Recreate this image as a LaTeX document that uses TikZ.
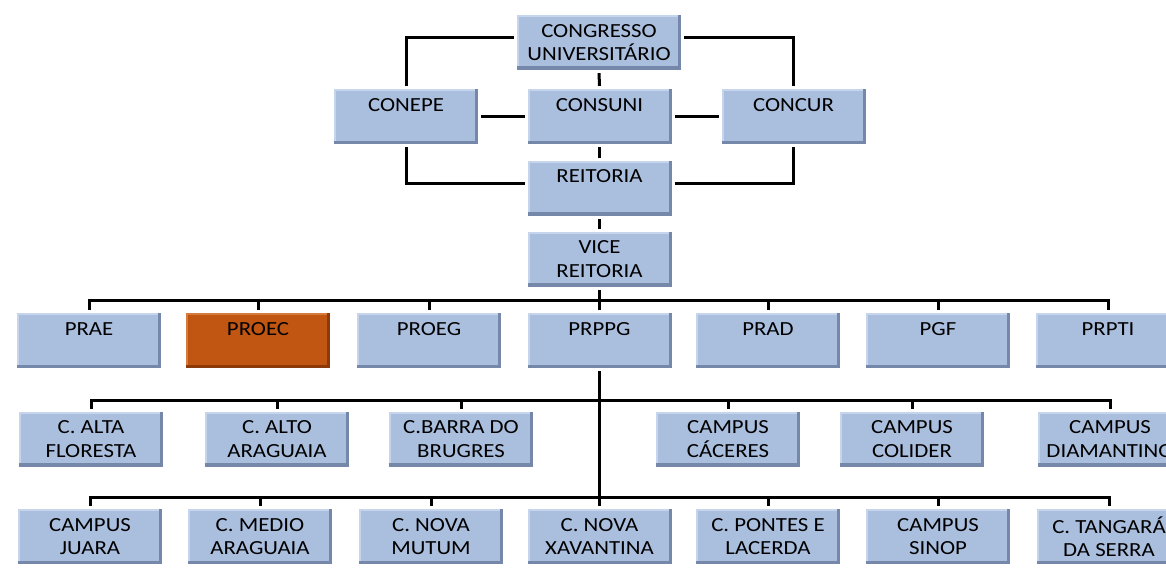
\documentclass[tikz,border=0pt]{standalone}
\usepackage{fontspec}
\newfontfamily\boxfont{Carlito}[FakeStretch=1.14]
\usetikzlibrary{shadows,backgrounds,calc}
\definecolor{boxblue}{RGB}{170,190,222}
\definecolor{bluedark}{RGB}{118,136,170}
\definecolor{bluelight}{RGB}{198,212,236}
\definecolor{proecfill}{RGB}{193,85,18}
\definecolor{proecdark}{RGB}{140,58,10}
\definecolor{proeclight}{RGB}{214,122,62}
\tikzset{
  orgbox/.style n args={3}{rectangle, fill=#1, draw=white, line width=3pt,
    inner sep=0pt, align=center, text=black,
    minimum width=147pt, minimum height=58pt,
    font={\boxfont\fontsize{20pt}{23.5pt}\selectfont},
    drop shadow={shadow xshift=1pt, shadow yshift=-1.5pt, opacity=0.22, fill=black!70},
    path picture={
      \fill[#3] (path picture bounding box.north west) rectangle ([yshift=-3.5pt]path picture bounding box.north east);
      \fill[#3] (path picture bounding box.north west) rectangle ([xshift=3.5pt]path picture bounding box.south west);
      \fill[#2] (path picture bounding box.south west) rectangle ([yshift=5pt]path picture bounding box.south east);
      \fill[#2] ([xshift=-4.5pt]path picture bounding box.south east) rectangle (path picture bounding box.north east);
    }},
  bbox/.style={orgbox={boxblue}{bluedark}{bluelight}},
  obox/.style={orgbox={proecfill}{proecdark}{proeclight}},
  conn/.style={draw=black, line width=3pt}
}
\begin{document}
\begin{tikzpicture}[x=1pt,y=-1pt]
\useasboundingbox (0,0) rectangle (1166,567);
% top
\node[bbox, minimum width=167pt] (congresso) at (599,42.5) {CONGRESSO\\UNIVERSITÁRIO};
\node[bbox] (conepe) at (406,116.5) {CONEPE\\\phantom{X}};
\node[bbox] (consuni) at (599.5,116.5) {CONSUNI\\\phantom{X}};
\node[bbox] (concur) at (793.5,116.5) {CONCUR\\\phantom{X}};
\node[bbox] (reitoria) at (599.5,188) {REITORIA\\\phantom{X}};
\node[bbox] (vice) at (599.5,259) {VICE\\REITORIA};
% row 2
\node[bbox] (prae) at (89,340.5) {PRAE\\\phantom{X}};
\node[obox] (proec) at (258,340.5) {PROEC\\\phantom{X}};
\node[bbox] (proeg) at (429,340.5) {PROEG\\\phantom{X}};
\node[bbox] (prppg) at (599.5,340.5) {PRPPG\\\phantom{X}};
\node[bbox] (prad) at (768,340.5) {PRAD\\\phantom{X}};
\node[bbox] (pgf) at (938,340.5) {PGF\\\phantom{X}};
\node[bbox] (prpti) at (1108,340.5) {PRPTI\\\phantom{X}};
% row 3
\node[bbox] (alta) at (91,439) {C. ALTA\\FLORESTA};
\node[bbox] (alto) at (277,439) {C. ALTO\\ARAGUAIA};
\node[bbox] (barra) at (461,439) {C.BARRA DO\\BRUGRES};
\node[bbox] (caceres) at (728,439) {CAMPUS\\CÁCERES};
\node[bbox] (colider) at (912,439) {CAMPUS\\COLIDER};
\node[bbox] (diamantino) at (1110,439) {CAMPUS\\DIAMANTINO};
% row 4
\node[bbox] (juara) at (90,536.5) {CAMPUS\\JUARA};
\node[bbox] (medio) at (260,536.5) {C. MEDIO\\ARAGUAIA};
\node[bbox] (mutum) at (431,536.5) {C. NOVA\\MUTUM};
\node[bbox] (xavantina) at (599.5,536.5) {C. NOVA\\XAVANTINA};
\node[bbox] (pontes) at (768,536.5) {C. PONTES E\\LACERDA};
\node[bbox] (sinop) at (938,536.5) {CAMPUS\\SINOP};
\node[bbox] (tangara) at (1109,536.5) {C. TANGARÁ\\DA SERRA};
% bus points
\coordinate (b2) at (599.5,300);
\coordinate (b3) at (599.5,400);
\coordinate (b4) at (599.5,497);
\begin{scope}[on background layer]
\draw[conn] ([yshift=4.5pt]congresso.west) -| (conepe.north);
\draw[conn] ([yshift=4.5pt]congresso.east) -| (concur.north);
\draw[conn] (congresso.south) -- (consuni.north);
\draw[conn] (conepe.east) -- (consuni.west);
\draw[conn] (consuni.east) -- (concur.west);
\draw[conn] (consuni.south) -- (reitoria.north);
\draw[conn] (conepe.south) |- ([yshift=5pt]reitoria.west);
\draw[conn] (concur.south) |- ([yshift=5pt]reitoria.east);
\draw[conn] (reitoria.south) -- (vice.north);
\draw[conn] (vice.south) -- (prppg.north);
\foreach \n in {prae,proec,proeg,prad,pgf,prpti} \draw[conn] (b2) -| (\n.north);
\draw[conn] (prppg.south) -- (xavantina.north);
\foreach \n in {alta,alto,barra,caceres,colider,diamantino} \draw[conn] (b3) -| (\n.north);
\foreach \n in {juara,medio,mutum,pontes,sinop,tangara} \draw[conn] (b4) -| (\n.north);
\end{scope}
\end{tikzpicture}
\end{document}
